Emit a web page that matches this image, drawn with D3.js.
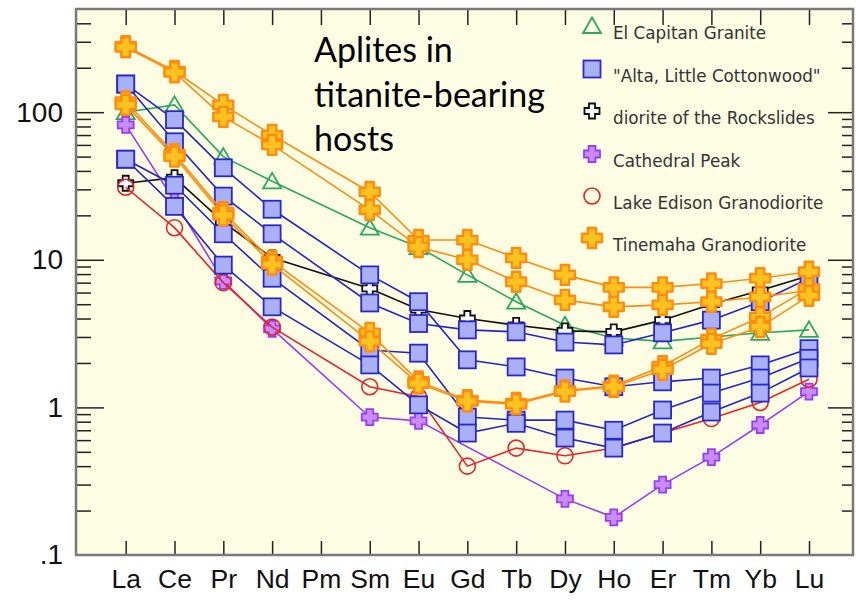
<!DOCTYPE html>
<html><head><meta charset="utf-8">
<script src="https://cdn.jsdelivr.net/npm/d3@7"></script>
<style>html,body{margin:0;padding:0;background:#fff;}svg{display:block;}</style>
</head><body>
<svg id="chart" width="856" height="601"></svg>
<script>
const elements = ["La","Ce","Pr","Nd","Pm","Sm","Eu","Gd","Tb","Dy","Ho","Er","Tm","Yb","Lu"];
const yTickLabels = [{v:100,t:"100"},{v:10,t:"10"},{v:1,t:"1"},{v:0.1,t:".1"}];

// El Capitan Granite
const elCapitan = [100,112,50,34,null,16.5,12.2,7.9,5.2,3.6,2.95,2.8,null,3.2,3.35];
// diorite of the Rockslides
const rockslides = [33,36,18,10.3,null,6.4,4.6,4.0,3.6,3.3,3.25,3.9,5.0,6.2,7.8];
// Cathedral Peak
const cathedral = [82,25,7.2,3.4,null,0.86,0.81,null,null,0.24,0.18,0.30,0.46,0.76,1.28];
// Lake Edison Granodiorite
const lakeEdison = [31,16.5,7.0,3.5,null,1.38,1.18,0.40,0.53,0.47,0.53,0.67,0.84,1.08,1.55];
// "Alta, Little Cottonwood" samples
const alta1 = [155,89,42,22,null,7.9,5.2,2.1,1.88,1.58,1.38,1.49,1.58,1.94,2.5];
const alta2 = [155,63,27,15,null,5.1,3.7,3.35,3.25,2.77,2.65,3.2,3.9,5.2,7.5];
const alta3 = [48,32,15,7.5,null,2.45,2.33,0.86,0.82,0.82,0.70,0.96,1.25,1.58,2.15];
const alta4 = [48,23,9.2,4.8,null,1.94,1.04,0.67,0.78,0.62,0.53,0.67,0.93,1.25,1.85];
// Tinemaha Granodiorite samples
const tine1 = [280,190,112,70,null,28.8,13.6,13.6,10.3,7.9,6.5,6.5,6.9,7.5,8.3];
const tine2 = [275,186,93,60,null,21.8,12.2,10,7.1,5.35,4.8,4.95,5.2,5.6,6.2];
const tine3 = [118,52,21,9.8,null,3.2,1.5,1.12,1.07,1.3,1.4,1.9,2.9,4.1,6.4];
const tine4 = [112,50,20,9.3,null,2.8,1.45,1.1,1.05,1.28,1.38,1.8,2.7,3.5,5.7];

const legendNames = ["El Capitan Granite","\"Alta, Little Cottonwood\"","diorite of the Rockslides","Cathedral Peak","Lake Edison Granodiorite","Tinemaha Granodiorite"];

const svg = d3.select("#chart");
const L = 76, R = 853, T = 9, B = 555;
const x = d3.scalePoint().domain(elements).range([125.7, 809]);
const y = d3.scaleLog().domain([0.1, 500]).range([B, T]);

svg.append("rect").attr("x",L).attr("y",T).attr("width",R-L).attr("height",B-T).attr("fill","#fdfde3");

const styles = {
  green:{line:"#2aa860", kind:"tri"},
  black:{line:"#111", kind:"bcross"},
  purple:{line:"#9b3cf2", kind:"pcross"},
  red:{line:"#e8232b", kind:"circ"},
  blue:{line:"#2424c8", kind:"sq"},
  orange:{line:"#ff8c10", kind:"ocross"}
};
function plusPath(s, w){
  return `M${-w},${-s}L${w},${-s}L${w},${-w}L${s},${-w}L${s},${w}L${w},${w}L${w},${s}L${-w},${s}L${-w},${w}L${-s},${w}L${-s},${-w}L${-w},${-w}Z`;
}
function drawMarker(g, kind){
  if(kind==="tri"){
    g.append("path").attr("d","M0,-8.5L9,7L-9,7Z").attr("fill","none").attr("stroke","#2aa860").attr("stroke-width",1.8);
  } else if(kind==="sq"){
    g.append("rect").attr("x",-8.5).attr("y",-8.5).attr("width",17).attr("height",17).attr("fill","#a9b0f6").attr("stroke","#2828cc").attr("stroke-width",1.8);
  } else if(kind==="bcross"){
    g.append("path").attr("d",plusPath(7.5,3)).attr("fill","#fff").attr("stroke","#111").attr("stroke-width",1.8);
  } else if(kind==="pcross"){
    g.append("path").attr("d",plusPath(8,3.5)).attr("fill","#c78cff").attr("stroke","#9b3cf2").attr("stroke-width",1.8);
  } else if(kind==="circ"){
    g.append("circle").attr("r",8).attr("fill","none").attr("stroke","#e8232b").attr("stroke-width",1.6);
  } else if(kind==="ocross"){
    g.append("path").attr("d",plusPath(10,4.2)).attr("fill","#ffc21f").attr("stroke","#ff8c10").attr("stroke-width",2.4).attr("stroke-linejoin","round");
  }
}

const seriesList = [
  {vals:elCapitan, st:styles.green},
  {vals:rockslides, st:styles.black},
  {vals:cathedral, st:styles.purple},
  {vals:lakeEdison, st:styles.red},
  {vals:alta1, st:styles.blue},
  {vals:alta2, st:styles.blue},
  {vals:alta3, st:styles.blue},
  {vals:alta4, st:styles.blue},
  {vals:tine1, st:styles.orange},
  {vals:tine2, st:styles.orange},
  {vals:tine3, st:styles.orange},
  {vals:tine4, st:styles.orange}
];
const line = d3.line().x(d=>x(d.e)).y(d=>y(d.v));
const plot = svg.append("g");
seriesList.forEach(s=>{
  const pts = elements.map((e,i)=>({e, v:s.vals[i]})).filter(d=>d.v!=null);
  const g = plot.append("g");
  g.append("path").attr("d",line(pts)).attr("fill","none").attr("stroke",s.st.line).attr("stroke-width",1.6);
  pts.forEach(p=>{
    const m = g.append("g").attr("transform",`translate(${x(p.e)},${y(p.v)})`);
    drawMarker(m, s.st.kind);
  });
});

// Axes ticks
const majors = [1,10,100];
const minors = [];
[0.1,1,10,100].forEach(d=>{ for(let k=2;k<=9;k++){ const v=d*k; if(v<500) minors.push(v);} });
const tickCol = "#222";
function styleTicks(g){ g.select(".domain").remove(); g.selectAll("line").attr("stroke",tickCol).attr("stroke-width",1.5); }
svg.append("g").attr("transform",`translate(${L},0)`).call(d3.axisRight(y).tickValues(minors).tickSize(15).tickFormat("")).call(styleTicks);
svg.append("g").attr("transform",`translate(${L},0)`).call(d3.axisRight(y).tickValues(majors).tickSize(28).tickFormat("")).call(styleTicks);
svg.append("g").attr("transform",`translate(${R},0)`).call(d3.axisLeft(y).tickValues(minors).tickSize(11).tickFormat("")).call(styleTicks);
svg.append("g").attr("transform",`translate(${R},0)`).call(d3.axisLeft(y).tickValues(majors).tickSize(25).tickFormat("")).call(styleTicks);
svg.append("g").attr("transform",`translate(0,${T})`).call(d3.axisBottom(x).tickSize(16).tickFormat("")).call(styleTicks);
svg.append("g").attr("transform",`translate(0,${B})`).call(d3.axisTop(x).tickSize(14).tickFormat("")).call(styleTicks);

// Y labels
svg.append("g").attr("transform",`translate(${L},0)`).call(d3.axisLeft(y).tickValues(yTickLabels.map(d=>d.v)).tickSize(0).tickPadding(13)
  .tickFormat(v=>yTickLabels.find(d=>d.v===v).t))
  .call(g=>{g.select(".domain").remove(); g.selectAll("text").attr("font-family","Liberation Sans, Arial, sans-serif").attr("font-size",28).attr("fill","#111");});
// X labels
svg.append("g").attr("transform",`translate(0,${B})`).call(d3.axisBottom(x).tickSize(0).tickPadding(14))
  .call(g=>{g.select(".domain").remove(); g.selectAll("text").attr("font-family","Liberation Sans, Arial, sans-serif").attr("font-size",26.5).attr("fill","#111");});

// Border
svg.append("rect").attr("x",L).attr("y",T).attr("width",R-L).attr("height",B-T).attr("fill","none").attr("stroke","#7a7a7a").attr("stroke-width",2.5);

// Annotation
const ann = svg.append("text").attr("font-family","Lato, Calibri, sans-serif").attr("font-size",34).attr("fill","#000");
["Aplites in","titanite-bearing","hosts"].forEach((t,i)=>ann.append("tspan").attr("x",314).attr("y",62+i*44.5).text(t));

// Legend
const legKinds = ["tri","sq","bcross","pcross","circ","ocross"];
const legY = [26,69,111,154,196,238];
legendNames.forEach((n,i)=>{
  const m = svg.append("g").attr("transform",`translate(592,${legY[i]})`);
  drawMarker(m, legKinds[i]);
  svg.append("text").attr("x",613).attr("y",legY[i]+13).attr("font-family","DejaVu Sans, Verdana, sans-serif")
    .attr("font-size",16.8).attr("fill","#333").text(n);
});
</script>
</body></html>
